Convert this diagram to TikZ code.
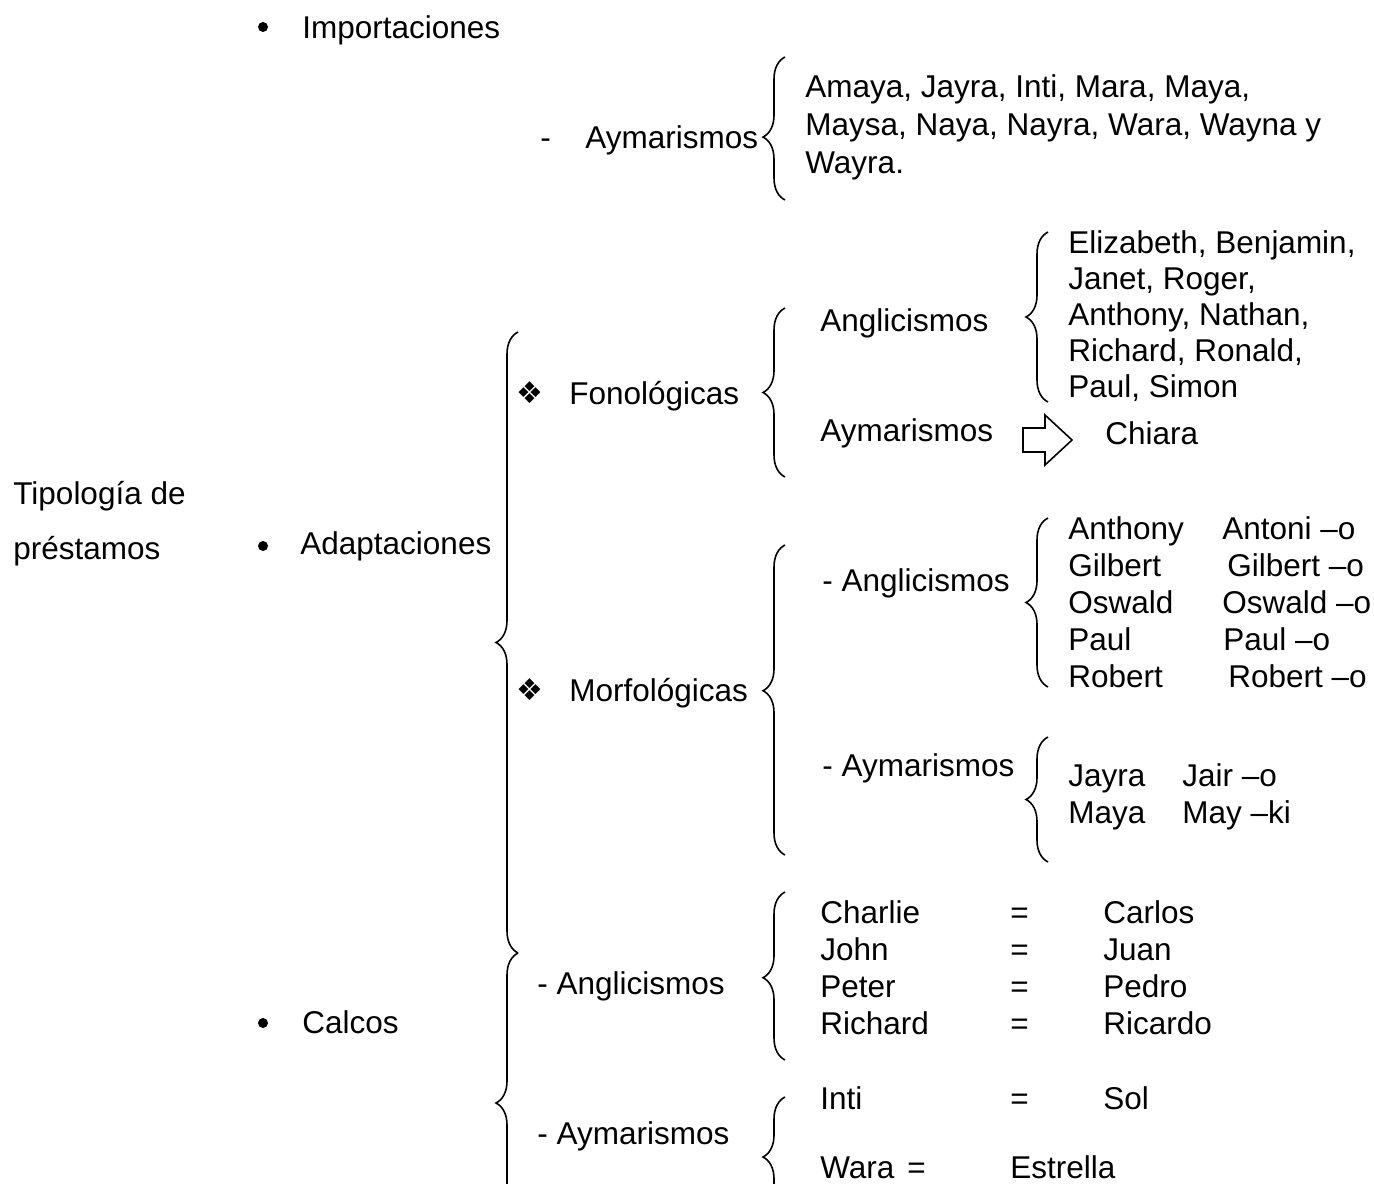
\documentclass[tikz,border=0pt]{standalone}
\usepackage{fontspec}
\setmainfont{Liberation Sans}
\newfontfamily\dingfont{DejaVu Sans}
\usetikzlibrary{decorations.pathreplacing}

\begin{document}
\begin{tikzpicture}[x=0.5pt, y=-0.5pt,
    txt/.style={anchor=base west, inner sep=0pt, font=\fontsize{15.75pt}{18.5pt}\selectfont},
    dot/.style={circle, fill, inner sep=0pt, minimum size=5pt},
    ding/.style={inner sep=0pt, font=\dingfont\fontsize{15pt}{15pt}\selectfont},
    curly/.style={decorate, decoration={brace, amplitude=11pt, aspect=#1}, line width=0.8pt}]
    \useasboundingbox (0,0) rectangle (1374,1183);

    % Root
    \node[txt] (tipo) at (13,504) {Tipología de};
    \node[txt] (prest) at (13,559) {préstamos};

    % Main bullets
    \node[dot] (dot-imp) at (263,27) {};
    \node[txt] (imp) at (302,38) {Importaciones};
    \node[dot] (dot-adap) at (263,546) {};
    \node[txt] (adap) at (300,554) {Adaptaciones};
    \node[dot] (dot-calc) at (263,1023) {};
    \node[txt] (calc) at (302,1033) {Calcos};

    % Braces: x / bottom / top / aspect
    \foreach \bx/\lo/\hi/\asp in {785/200/57/0.44, 1048/402/232/0.5, 785/477/308/0.5,
        518/953/332/0.5, 785/855/545/0.53, 1048/687/518/0.5, 1048/862/737/0.5,
        518/1253/953/0.5, 785/1060/892/0.49, 785/1217/1097/0.5}
        \draw[curly=\asp] (\bx,\lo) -- (\bx,\hi);

    % Importaciones
    \node[txt] (dash-imp) at (540,148) {-};
    \node[txt] (aym-imp) at (585,148) {Aymarismos};
    \foreach \t [count=\i from 0] in {{Amaya, Jayra, Inti, Mara, Maya,},
        {Maysa, Naya, Nayra, Wara, Wayna y}, Wayra.}
        \node[txt] (am-\i) at (805,{97+38*\i}) {\t};

    % Adaptaciones: fonologicas
    \node[ding] (ding-fon) at (530,393) {❖};
    \node[txt] (fon) at (569,404) {Fonológicas};
    \node[txt] (ang-fon) at (820,331) {Anglicismos};
    \node[txt] (aym-fon) at (820,441) {Aymarismos};
    \foreach \t [count=\i from 0] in {{Elizabeth, Benjamin,}, {Janet, Roger,},
        {Anthony, Nathan,}, {Richard, Ronald,}, {Paul, Simon}}
        \node[txt] (fn-\i) at (1068,{253+36*\i}) {\t};
    \draw[line width=0.8pt] (1023,428) -- (1045,428) -- (1045,415) -- (1072,440)
        -- (1045,465) -- (1045,452) -- (1023,452) -- cycle;
    \node[txt] (chiara) at (1105,444) {Chiara};

    % Adaptaciones: morfologicas
    \node[ding] (ding-mor) at (530,690) {❖};
    \node[txt] (mor) at (569,701) {Morfológicas};
    \node[txt] (ang-mor) at (822,591) {- Anglicismos};
    \node[txt] (aym-mor) at (822,776) {- Aymarismos};
    \foreach \a/\b/\bx [count=\i from 0] in {Anthony/Antoni –o/1222, Gilbert/Gilbert –o/1227,
        Oswald/Oswald –o/1222, Paul/Paul –o/1223, Robert/Robert –o/1228} {
        \node[txt] (en-\i) at (1068,{539+37*\i}) {\a};
        \node[txt] (es-\i) at (\bx,{539+37*\i}) {\b};
    }
    \foreach \a/\b [count=\i from 0] in {Jayra/Jair –o, Maya/May –ki} {
        \node[txt] (ay-\i) at (1068,{786+37*\i}) {\a};
        \node[txt] (ad-\i) at (1182,{786+37*\i}) {\b};
    }

    % Calcos
    \node[txt] (ang-cal) at (537,994) {- Anglicismos};
    \node[txt] (aym-cal) at (537,1144) {- Aymarismos};
    \foreach \a/\b [count=\i from 0] in {Charlie/Carlos, John/Juan, Peter/Pedro, Richard/Ricardo} {
        \node[txt] (ca-\i) at (820,{923+37*\i}) {\a};
        \node[txt] (eq-\i) at (1010,{923+37*\i}) {=};
        \node[txt] (cb-\i) at (1103,{923+37*\i}) {\b};
    }
    \node[txt] (inti) at (820,1109) {Inti};
    \node[txt] (eq-inti) at (1010,1109) {=};
    \node[txt] (sol) at (1103,1109) {Sol};
    \node[txt] (wara) at (820,1178) {Wara};
    \node[txt] (eq-wara) at (907,1178) {=};
    \node[txt] (estr) at (1010,1178) {Estrella};
\end{tikzpicture}
\end{document}
